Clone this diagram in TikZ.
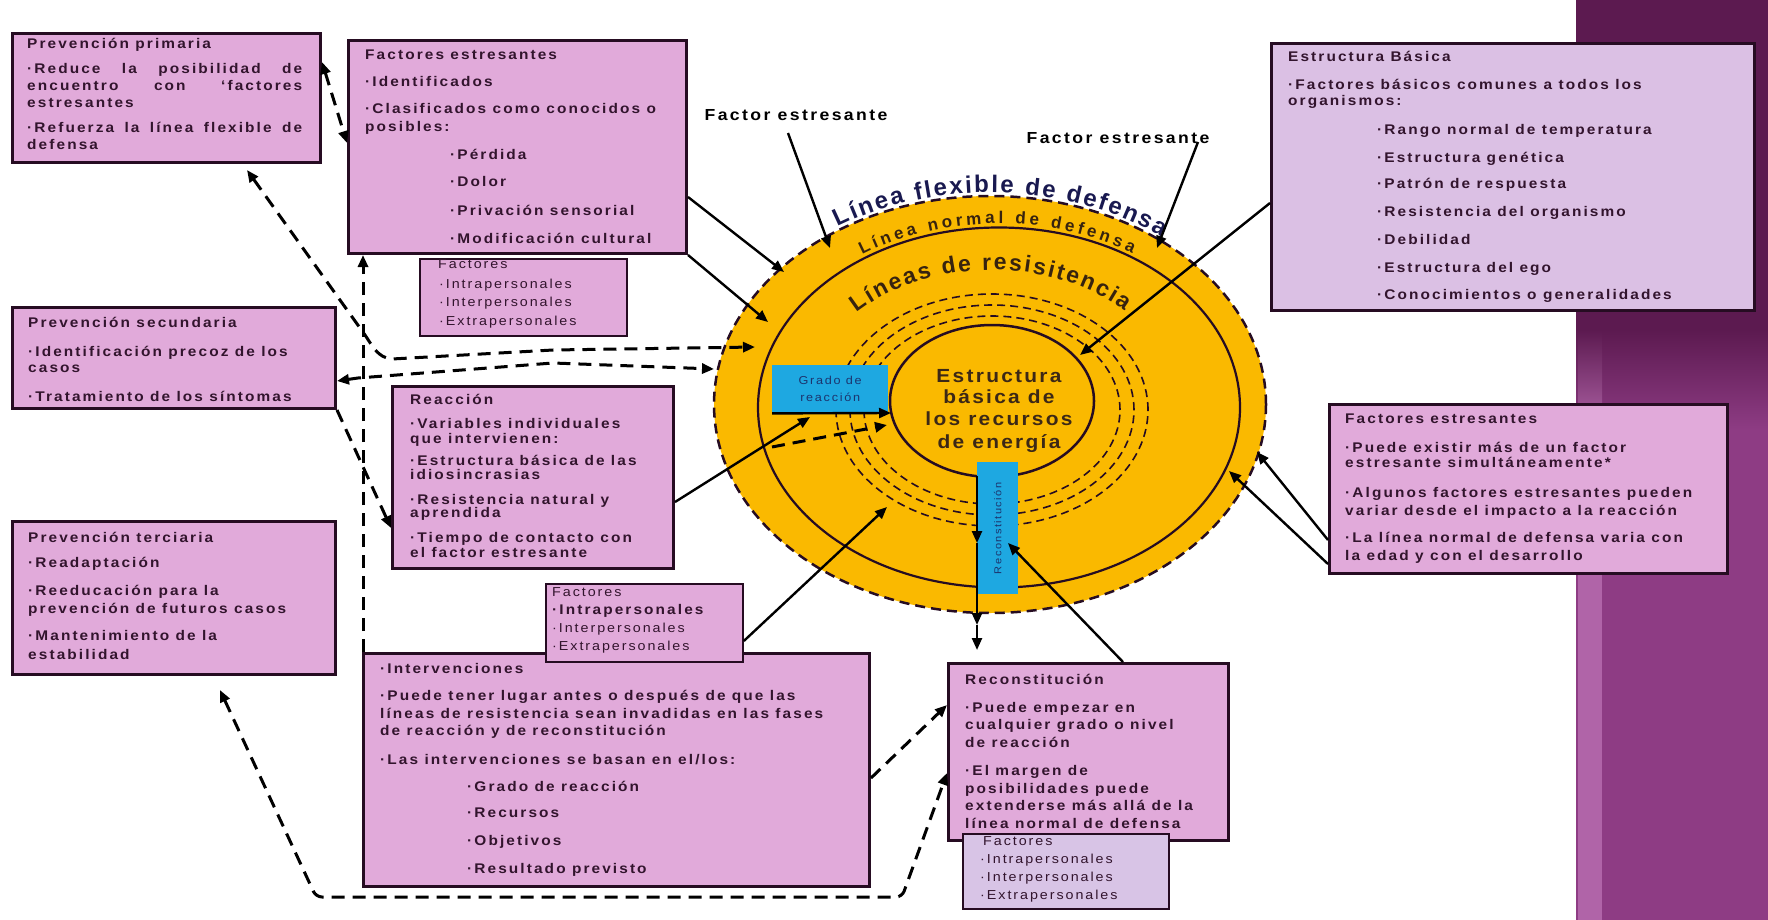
\documentclass[tikz,border=0pt]{standalone}
\usepackage{fontspec}
\setmainfont{Liberation Sans}
\newfontfamily\bx[LetterSpace=15,FakeStretch=1.1]{Liberation Sans}
\newfontfamily\bxc[LetterSpace=12,FakeStretch=1.1]{Liberation Sans}
\usetikzlibrary{arrows.meta,decorations.text,shapes.geometric}
\definecolor{pinkbox}{RGB}{225,170,218}
\definecolor{lavbox}{RGB}{219,192,228}
\definecolor{lavbox2}{RGB}{216,196,230}
\definecolor{edge}{RGB}{38,12,34}
\definecolor{ink}{RGB}{50,20,45}
\definecolor{gold}{RGB}{250,185,0}
\definecolor{cyanbox}{RGB}{30,168,225}
\definecolor{navy}{RGB}{28,52,110}
\definecolor{plumdark}{RGB}{92,26,80}
\definecolor{plummid}{RGB}{142,60,132}
\definecolor{plumlight}{RGB}{176,100,168}
\definecolor{arcnavy}{RGB}{25,25,80}
\definecolor{arcbrown}{RGB}{55,35,15}
\definecolor{centerink}{RGB}{60,40,22}
\newcounter{tlc}
\newcommand\tline[4][txtb]{\stepcounter{tlc}\node[#1] (tl\arabic{tlc}) at (#2,-#3) {#4};}
\newcommand\arcfontA{\bfseries\fontsize{24}{24}\selectfont}
\newcommand\arcfontB{\bfseries\fontsize{17}{17}\selectfont}
\newcommand\arcfontC{\bfseries\fontsize{23}{23}\selectfont}
\begin{document}
\begin{tikzpicture}[x=1pt,y=1pt,
  mainbox/.style={draw=edge, line width=3pt, fill=pinkbox, anchor=north west, inner sep=0pt},
  subbox/.style={draw=edge, line width=1.8pt, fill=pinkbox, anchor=north west, inner sep=0pt},
  txtb/.style={anchor=base west, inner sep=0pt, text=ink, font=\bx\bfseries\fontsize{14}{14}\selectfont},
  txtr/.style={anchor=base west, inner sep=0pt, text=ink, font=\bx\fontsize{13}{13}\selectfont},
  lab/.style={anchor=base, inner sep=0pt, text=black, font=\bx\bfseries\fontsize{16}{16}\selectfont},
  ctext/.style={anchor=base, inner sep=0pt, text=centerink, font=\bxc\bfseries\fontsize{19}{19}\selectfont},
  resring/.style={ellipse, draw=edge, line width=1.6pt, dash pattern=on 8pt off 5pt, inner sep=0pt},
  sarr/.style={draw=black, line width=2.4pt, -{Triangle[length=12pt,width=10pt]}},
  darr/.style={draw=black, line width=3pt, dash pattern=on 13pt off 8pt, -{Triangle[length=12pt,width=10pt]}},
  darr2/.style={darr, {Triangle[length=12pt,width=10pt]}-{Triangle[length=12pt,width=10pt]}}
]
\useasboundingbox (0,0) rectangle (1768,-920);
\fill[white] (0,0) rectangle (1768,-920);
% right band
\fill[plumdark] (1576,0) rectangle (1768,-330);
\shade[top color=plumdark,bottom color=plummid] (1576,-330) rectangle (1768,-430);
\fill[plummid] (1576,-430) rectangle (1768,-920);
\shade[top color=plumdark,bottom color=plumlight] (1578,-330) rectangle (1602,-430);
\fill[plumlight] (1578,-430) rectangle (1602,-920);

% circles
\node[ellipse, fill=gold, draw=edge, line width=2.5pt, dash pattern=on 10pt off 6pt, minimum width=552pt, minimum height=417pt, inner sep=0pt] (flex) at (990,-404.5) {};
\node[ellipse, draw=edge, line width=2.2pt, minimum width=482pt, minimum height=360pt, inner sep=0pt] (norm) at (999,-407.5) {};
\node[resring, minimum width=312pt, minimum height=232pt] (res1) at (992,-410) {};
\node[resring, minimum width=284pt, minimum height=210pt] (res2) at (992,-410) {};
\node[resring, minimum width=256pt, minimum height=188pt] (res3) at (992,-410) {};
\node[ellipse, draw=edge, line width=2.5pt, minimum width=204pt, minimum height=152pt, inner sep=0pt] (core) at (992,-401) {};

% arc texts
\path[decorate, decoration={text along path, text={|\arcfontA|Línea flexible de defensa}, text align={fit to path}, text color=arcnavy, raise=2pt}]
  (990,-404.5) ++(123:278 and 210) arc[start angle=123, end angle=52, x radius=278, y radius=210];
\path[decorate, decoration={text along path, text={|\arcfontB|Línea normal de defensa}, text align={fit to path}, text color=arcbrown, raise=2pt}]
  (999,-407.5) ++(124:243 and 182) arc[start angle=124, end angle=57, x radius=243, y radius=182];
\path[decorate, decoration={text along path, text={|\arcfontC|Líneas de resisitencia}, text align={fit to path}, text color=arcbrown}]
  (992,-410) ++(136:188 and 140) arc[start angle=136, end angle=45, x radius=188, y radius=140];

% centre text
\node[ctext] (ct1) at (999,-382) {Estructura};
\node[ctext] (ct2) at (999,-403) {básica de};
\node[ctext] (ct3) at (999,-425) {los recursos};
\node[ctext] (ct4) at (999,-448) {de energía};

% blue boxes
\node[fill=cyanbox, minimum width=116pt, minimum height=48pt, anchor=north west, inner sep=0pt, align=center, text=navy, font=\bx\fontsize{11.5}{17}\selectfont] (grado) at (772,-365) {Grado de\\reacción};
\node[fill=cyanbox, minimum width=41pt, minimum height=132pt, anchor=north west, inner sep=0pt] (recbar) at (977,-462) {};
\node[rotate=90, inner sep=0pt, text=navy, font=\bx\fontsize{10}{10}\selectfont] (rectxt) at (recbar.center) {Reconstitución};

% labels
\node[lab] (fsl) at (796,-121) {Factor estresante};
\node[lab] (fsr) at (1118,-144) {Factor estresante};

% Prevencion primaria
\node[mainbox, minimum width=308pt, minimum height=129pt] (pp) at (11,-32) {};
\tline{27}{49}{Prevención primaria}
\tline{27}{74}{\makebox[275pt][s]{·Reduce la posibilidad de}}
\tline{27}{91}{\makebox[275pt][s]{encuentro con ‘factores}}
\tline{27}{108}{estresantes}
\tline{27}{133}{\makebox[275pt][s]{·Refuerza la línea flexible de}}
\tline{27}{150}{defensa}

% Factores estresantes (top)
\node[mainbox, minimum width=338pt, minimum height=213pt] (fet) at (347,-39) {};
\tline{365}{60}{Factores estresantes}
\tline{365}{87}{·Identificados}
\tline{365}{114}{·Clasificados como conocidos o}
\tline{365}{132}{posibles:}
\tline{450}{160}{·Pérdida}
\tline{450}{186}{·Dolor}
\tline{450}{215}{·Privación sensorial}
\tline{450}{243}{·Modificación cultural}
\node[subbox, minimum width=207pt, minimum height=77pt] (fes) at (419,-258) {};
\tline[txtr]{438}{268}{Factores}
\tline[txtr]{439}{288}{·Intrapersonales}
\tline[txtr]{439}{306}{·Interpersonales}
\tline[txtr]{439}{325}{·Extrapersonales}

% Estructura Basica
\node[mainbox, fill=lavbox, minimum width=483pt, minimum height=267pt] (eb) at (1270,-42) {};
\tline{1288}{62}{Estructura Básica}
\tline{1288}{90}{·Factores básicos comunes a todos los}
\tline{1288}{106}{organismos:}
\tline{1377}{135}{·Rango normal de temperatura}
\tline{1377}{163}{·Estructura genética}
\tline{1377}{189}{·Patrón de respuesta}
\tline{1377}{216}{·Resistencia del organismo}
\tline{1377}{244}{·Debilidad}
\tline{1377}{272}{·Estructura del ego}
\tline{1377}{299}{·Conocimientos o generalidades}

% Prevencion secundaria
\node[mainbox, minimum width=323pt, minimum height=101pt] (ps) at (11,-306) {};
\tline{28}{327}{Prevención secundaria}
\tline{28}{356}{·Identificación precoz de los}
\tline{28}{372}{casos}
\tline{28}{401}{·Tratamiento de los síntomas}

% Reaccion
\node[mainbox, minimum width=281pt, minimum height=182pt] (reac) at (391,-385) {};
\tline{410}{404}{Reacción}
\tline{410}{428}{·Variables individuales}
\tline{410}{443}{que intervienen:}
\tline{410}{465}{·Estructura básica de las}
\tline{410}{479}{idiosincrasias}
\tline{410}{504}{·Resistencia natural y}
\tline{410}{517}{aprendida}
\tline{410}{542}{·Tiempo de contacto con}
\tline{410}{557}{el factor estresante}

% Prevencion terciaria
\node[mainbox, minimum width=323pt, minimum height=153pt] (pt) at (11,-520) {};
\tline{28}{542}{Prevención terciaria}
\tline{28}{567}{·Readaptación}
\tline{28}{595}{·Reeducación para la}
\tline{28}{613}{prevención de futuros casos}
\tline{28}{640}{·Mantenimiento de la}
\tline{28}{659}{estabilidad}

% Factores estresantes (right)
\node[mainbox, minimum width=398pt, minimum height=169pt] (fer) at (1328,-403) {};
\tline{1345}{423}{Factores estresantes}
\tline{1345}{452}{·Puede existir más de un factor}
\tline{1345}{467}{estresante simultáneamente*}
\tline{1345}{497}{·Algunos factores estresantes pueden}
\tline{1345}{515}{variar desde el impacto a la reacción}
\tline{1345}{542}{·La línea normal de defensa varia con}
\tline{1345}{560}{la edad y con el desarrollo}

% Intervenciones
\node[mainbox, minimum width=506pt, minimum height=233pt] (inv) at (362,-652) {};
\tline{380}{673}{·Intervenciones}
\tline{380}{700}{·Puede tener lugar antes o después de que las}
\tline{380}{718}{líneas de resistencia sean invadidas  en las fases}
\tline{380}{735}{de reacción y de reconstitución}
\tline{380}{764}{·Las intervenciones se basan en el/los:}
\tline{467}{791}{·Grado de reacción}
\tline{467}{817}{·Recursos}
\tline{467}{845}{·Objetivos}
\tline{467}{873}{·Resultado previsto}
\node[subbox, minimum width=197pt, minimum height=78pt] (ivs) at (545,-583) {};
\tline[txtr]{552}{596}{Factores}
\tline{552}{614}{·Intrapersonales}
\tline[txtr]{552}{632}{·Interpersonales}
\tline[txtr]{552}{650}{·Extrapersonales}

% Reconstitucion
\node[mainbox, minimum width=280pt, minimum height=177pt] (rec) at (947,-662) {};
\tline{965}{684}{Reconstitución}
\tline{965}{712}{·Puede empezar en}
\tline{965}{729}{cualquier grado o nivel}
\tline{965}{747}{de reacción}
\tline{965}{775}{·El margen de}
\tline{965}{793}{posibilidades  puede}
\tline{965}{810}{extenderse más allá de la}
\tline{965}{828}{línea normal de defensa}
\node[subbox, fill=lavbox2, minimum width=206pt, minimum height=75pt] (rcs) at (962,-833) {};
\tline[txtr]{983}{845}{Factores}
\tline[txtr]{980}{863}{·Intrapersonales}
\tline[txtr]{980}{881}{·Interpersonales}
\tline[txtr]{980}{899}{·Extrapersonales}

% coordinates
\coordinate (tFL) at (830,-248);
\coordinate (tFR) at (1157,-248);
\coordinate (tFE1) at (784,-272);
\coordinate (tFE2) at (768,-322);
\coordinate (tEB) at (1080,-355);
\coordinate (tFR1) at (1257,-452);
\coordinate (tFR2) at (1229,-471);
\coordinate (tRe) at (810,-417);
\coordinate (tIv) at (887,-507);
\coordinate (tRc) at (1008,-543);
\coordinate (tGr) at (891,-413);
\coordinate (v0) at (977,-476);
\coordinate (v1) at (977,-543);
\coordinate (v2) at (977,-625);
\coordinate (v3) at (977,-650);
\coordinate (tC1) at (755,-347);
\coordinate (tC2) at (714,-369);
\coordinate (tPPd) at (247,-170);
\coordinate (tPT) at (220,-690);
\coordinate (sIn) at (772,-447);
\coordinate (tIn) at (887,-425);

% solid connectors
\draw[sarr] ([xshift=-8pt,yshift=-12pt]fsl.base) -- (tFL);
\draw[sarr] ([xshift=80pt,yshift=2pt]fsr.base) -- (tFR);
\draw[sarr] (fet.east |- 0,-197) -- (tFE1);
\draw[sarr] (fet.south east) -- (tFE2);
\draw[sarr] (eb.west |- 0,-203) -- (tEB);
\draw[sarr] (fer.west |- 0,-540) -- (tFR1);
\draw[sarr] (fer.west |- 0,-564) -- (tFR2);
\draw[sarr] (reac.east |- 0,-502) -- (tRe);
\draw[sarr] (ivs.east |- 0,-641) -- (tIv);
\draw[sarr] (rec.north -| 1123,0) -- (tRc);
\draw[sarr] (grado.south west) -- (tGr);
\draw[sarr] (v0) -- (v1);
\draw[sarr] (v1) -- (v2);
\draw[sarr] (v2) -- (v3);

% dashed connectors
\draw[darr2] (pp.east |- 0,-62) -- (fet.west |- 0,-143);
\draw[darr2] (tPPd) -- (365,-335) to[out=-56,in=175] (392,-359) -- (553,-350) -- (tC1);
\draw[darr2] (ps.east |- 0,-381) -- (358,-378) -- (553,-363) -- (tC2);
\draw[darr] (ps.south east) -- (reac.west |- 0,-528);
\draw[darr] ([xshift=1pt]inv.north west) -- ([xshift=16pt]fet.south west);
\draw[darr2, rounded corners=6pt] (tPT) -- (316,-897) -- (902,-897) -- (rec.west |- 0,-773);
\draw[darr] (inv.east |- 0,-778) -- (rec.west |- 0,-705);
\draw[darr] (sIn) -- (tIn);
\end{tikzpicture}
\end{document}
